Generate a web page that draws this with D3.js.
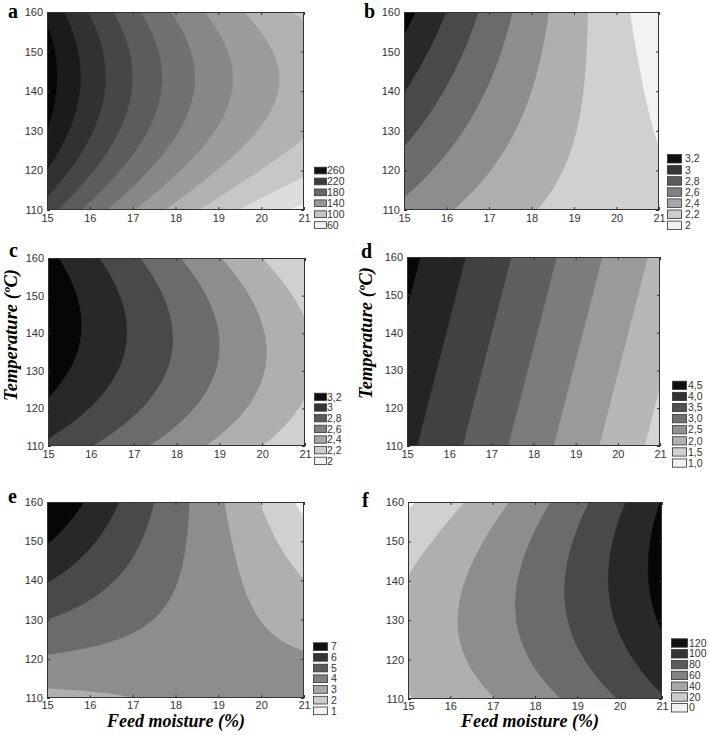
<!DOCTYPE html>
<html><head><meta charset="utf-8">
<script src="https://cdn.jsdelivr.net/npm/d3@7"></script>
<style>body{margin:0;background:#fff} svg{display:block}</style>
</head><body><svg id="chart" width="708" height="735"></svg>
<script>
// ---------- data ----------
const moistureTicks = [15, 16, 17, 18, 19, 20, 21];
const temperatureTicks = [110, 120, 130, 140, 150, 160];
// response-surface coefficients, coded units X=(moisture-18)/3, Y=(temperature-135)/25
// order: [b0, bX, bY, bXX, bYY, bXY]
const surfaceA = [167.8, -78.46, 21.8, 18.76, -32.7, -1.1];
const levelsA = [60, 80, 100, 120, 140, 160, 180, 200, 220, 240, 260];
const legendA = ["260", "220", "180", "140", "100", "60"];

const surfaceB = [2.372, -0.48, 0.141, 0.081, -0.02, -0.222];
const levelsB = [2.0, 2.2, 2.4, 2.6, 2.8, 3.0, 3.2];
const legendB = ["3,2", "3", "2,8", "2,6", "2,4", "2,2", "2"];

const surfaceC = [2.78, -0.543, 0.059, 0, -0.219, -0.088];
const levelsC = [2.0, 2.2, 2.4, 2.6, 2.8, 3.0, 3.2];
const legendC = ["3,2", "3", "2,8", "2,6", "2,4", "2,2", "2"];

const surfaceD = [2.988, -1.39, 0.267, 0, 0, 0];
const levelsD = [1.0, 1.5, 2.0, 2.5, 3.0, 3.5, 4.0, 4.5];
const legendD = ["4,5", "4,0", "3,5", "3,0", "2,5", "2,0", "1,5", "1,0"];

const surfaceE = [3.92, -1.615, 0.63, 0, -0.16, -2.045];
const levelsE = [1, 2, 3, 4, 5, 6, 7];
const legendE = ["7", "6", "5", "4", "3", "2", "1"];

const surfaceF = [67.7, 50.8, 0.33, 6.77, -15.8, 11.3];
const levelsF = [0, 20, 40, 60, 80, 100, 120];
const legendF = ["120", "100", "80", "60", "40", "20", "0"];

// ---------- layout ----------
const panels = [
  {id:"a", s:surfaceA, lv:levelsA, lg:legendA, x0:47, x1:304, y0:12, y1:210, lx:8, ly:18, tp:4.5,
   sx:314, sw:12, sy:166.7, sh:6.7, st:10.9, tx:327},
  {id:"b", s:surfaceB, lv:levelsB, lg:legendB, x0:404, x1:659, y0:12, y1:210, lx:364, ly:18, tp:4.5,
   sx:667, sw:14, sy:154, sh:8.5, st:11.1, tx:685},
  {id:"c", s:surfaceC, lv:levelsC, lg:legendC, x0:48, x1:305, y0:258, y1:446, lx:9, ly:257, tp:4.5,
   sx:314, sw:12, sy:392.7, sh:7.3, st:10.67, tx:327},
  {id:"d", s:surfaceD, lv:levelsD, lg:legendD, x0:407, x1:660, y0:257, y1:446, lx:361, ly:258, tp:4.5,
   sx:672, sw:14, sy:380.7, sh:8.3, st:11.1, tx:688},
  {id:"e", s:surfaceE, lv:levelsE, lg:legendE, x0:47, x1:304, y0:502, y1:698, lx:8, ly:503, tp:3.5,
   sx:313, sw:14, sy:642.3, sh:7.7, st:10.7, tx:331},
  {id:"f", s:surfaceF, lv:levelsF, lg:legendF, x0:408, x1:662, y0:502, y1:699, lx:362, ly:507, tp:3,
   sx:671, sw:16, sy:638.3, sh:8.4, st:10.8, tx:689}
];

const svg = d3.select("#chart");
const LIGHT = 242, DARK = 6;
const grayOf = v => { const g = Math.round(v); return `rgb(${g},${g},${g})`; };

function drawPanel(p) {
  const x = d3.scaleLinear().domain([15, 21]).range([p.x0, p.x1]);
  const y = d3.scaleLinear().domain([110, 160]).range([p.y1, p.y0]);
  const nx = 181, ny = 151;
  const vals = new Array(nx * ny);
  const c = p.s;
  for (let j = 0; j < ny; j++) {
    const t = 160 - j * 50 / (ny - 1), Y = (t - 135) / 25;
    for (let i = 0; i < nx; i++) {
      const m = 15 + i * 6 / (nx - 1), X = (m - 18) / 3;
      vals[j * nx + i] = c[0] + c[1]*X + c[2]*Y + c[3]*X*X + c[4]*Y*Y + c[5]*X*Y;
    }
  }
  const contours = d3.contours().size([nx, ny]).thresholds(p.lv)(vals);
  const proj = d3.geoTransform({point(gx, gy) {
    this.stream.point(x(15 + (gx - 0.5) * 6 / (nx - 1)), y(160 - (gy - 0.5) * 50 / (ny - 1)));
  }});
  const path = d3.geoPath(proj);
  const nb = p.lv.length + 1;
  const band = k => grayOf(LIGHT - k * (LIGHT - DARK) / (nb - 1));

  svg.append("clipPath").attr("id", "clip" + p.id)
    .append("rect").attr("x", p.x0).attr("y", p.y0).attr("width", p.x1 - p.x0).attr("height", p.y1 - p.y0);
  const g = svg.append("g").attr("clip-path", `url(#clip${p.id})`);
  g.append("rect").attr("x", p.x0).attr("y", p.y0).attr("width", p.x1 - p.x0).attr("height", p.y1 - p.y0)
    .attr("fill", band(0));
  contours.forEach((ct, k) => {
    g.append("path").attr("d", path(ct)).attr("fill", band(k + 1)).attr("stroke", band(k + 1)).attr("stroke-width", 0.3);
  });

  // axes
  const styleAxis = sel => {
    sel.select(".domain").remove();
    sel.selectAll("line").attr("stroke", "#333");
    sel.selectAll("text").attr("font-family", "'Liberation Sans', Arial, sans-serif")
      .attr("font-size", 11).attr("fill", "#333");
  };
  svg.append("g").attr("transform", `translate(0,${p.y1})`)
    .call(d3.axisBottom(x).tickValues(moistureTicks).tickFormat(d3.format("d")).tickSizeInner(-3).tickSizeOuter(0).tickPadding(p.tp))
    .call(styleAxis);
  svg.append("g").attr("transform", `translate(${p.x0},0)`)
    .call(d3.axisLeft(y).tickValues(temperatureTicks).tickFormat(d3.format("d")).tickSizeInner(-3).tickSizeOuter(0).tickPadding(4))
    .call(styleAxis);
  svg.append("g").attr("transform", `translate(0,${p.y0})`)
    .call(d3.axisTop(x).tickValues(moistureTicks).tickFormat("").tickSizeInner(-3).tickSizeOuter(0))
    .call(styleAxis);
  svg.append("g").attr("transform", `translate(${p.x1},0)`)
    .call(d3.axisRight(y).tickValues(temperatureTicks).tickFormat("").tickSizeInner(-3).tickSizeOuter(0))
    .call(styleAxis);
  svg.append("rect").attr("x", p.x0 + 0.5).attr("y", p.y0 + 0.5)
    .attr("width", p.x1 - p.x0 - 1).attr("height", p.y1 - p.y0 - 1)
    .attr("fill", "none").attr("stroke", "#333").attr("stroke-width", 1);

  // legend
  const nl = p.lg.length;
  const lg = svg.append("g");
  p.lg.forEach((lab, i) => {
    const yy = p.sy + i * p.st;
    lg.append("rect").attr("x", p.sx + 0.5).attr("y", yy + 0.5).attr("width", p.sw).attr("height", p.sh)
      .attr("fill", grayOf(DARK + 10 + i * (LIGHT - DARK - 10) / (nl - 1)))
      .attr("stroke", "#333").attr("stroke-width", 0.8);
    lg.append("text").attr("x", p.tx).attr("y", yy + p.sh / 2 + 0.5).attr("dy", "0.35em")
      .attr("font-family", "'Liberation Sans', Arial, sans-serif").attr("font-size", 10.5).attr("fill", "#333")
      .text(lab);
  });

  // panel letter
  svg.append("text").attr("x", p.lx).attr("y", p.ly)
    .attr("font-family", "'Liberation Serif', 'Times New Roman', serif").attr("font-weight", "bold")
    .attr("font-size", 20).attr("fill", "#000").text(p.id);
}
panels.forEach(drawPanel);

// axis titles
const titleFont = "'Liberation Serif', 'Times New Roman', serif";
[[17, 335], [372, 333]].forEach(([tx, ty]) => {
  svg.append("text").attr("transform", `translate(${tx},${ty}) rotate(-90)`).attr("text-anchor", "middle")
    .attr("font-family", titleFont).attr("font-weight", "bold").attr("font-style", "italic")
    .attr("font-size", 18.5).attr("fill", "#000").text("Temperature (ºC)");
});
[[176, 726.5], [530, 726.5]].forEach(([tx, ty]) => {
  svg.append("text").attr("x", tx).attr("y", ty).attr("text-anchor", "middle")
    .attr("font-family", titleFont).attr("font-weight", "bold").attr("font-style", "italic")
    .attr("font-size", 18).attr("fill", "#000").text("Feed moisture (%)");
});
</script></body></html>
